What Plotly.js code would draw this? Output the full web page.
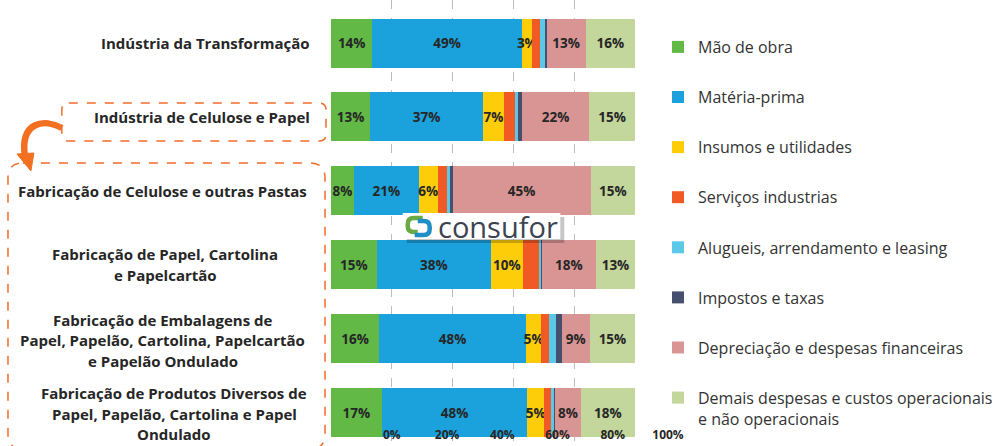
<!DOCTYPE html>
<html>
<head>
<meta charset="utf-8">
<script src="https://cdn.plot.ly/plotly-3.0.1.min.js"></script>
<style>html,body{margin:0;padding:0;background:#fff;}#chart{width:998px;height:446px;}</style>
</head>
<body>
<div id="chart"></div>
<script>
// ---------- DATA ----------
const categories = [
  'Indústria da Transformação',
  'Indústria de Celulose e Papel',
  'Fabricação de Celulose e outras Pastas',
  'Fabricação de Papel, Cartolina<br>e Papelcartão',
  'Fabricação de Embalagens de<br>Papel, Papelão, Cartolina, Papelcartão<br>e Papelão Ondulado',
  'Fabricação de Produtos Diversos de<br>Papel, Papelão, Cartolina e Papel<br>Ondulado'
];
const seriesNames = [
  'Mão de obra',
  'Matéria-prima',
  'Insumos e utilidades',
  'Serviços industrias',
  'Alugueis, arrendamento e leasing',
  'Impostos e taxas',
  'Depreciação e despesas financeiras',
  'Demais despesas e custos operacionais<br>e não operacionais'
];
const maoDeObra    = [13.6, 12.9,  7.6, 15.0, 15.8, 16.7];
const materiaPrima = [49.2, 37.1, 21.2, 37.6, 48.3, 47.9];
const insumos      = [ 3.2,  6.9,  6.4, 10.4,  5.1,  5.4];
const servicos     = [ 2.7,  3.6,  3.0,  5.3,  2.4,  2.3];
const alugueis     = [ 1.7,  1.0,  0.8,  0.7,  2.5,  1.0];
const impostos     = [ 0.5,  1.3,  1.0,  0.3,  1.7,  0.4];
const depreciacao  = [12.8, 22.1, 45.4, 17.8,  9.3,  8.4];
const demais       = [16.3, 15.1, 14.6, 12.9, 14.9, 17.9];
const tickValues = [0, 20, 40, 60, 80, 100];
const tickLabels = ['0%', '20%', '40%', '60%', '80%', '100%'];
const watermark = 'consufor';

// ---------- STYLE ----------
const W = 998, H = 446;
const colors = ['#62b946', '#1ba1db', '#fecd0a', '#f15a24', '#5bc8e8', '#44506e', '#d99594', '#c3d69b'];
const showLabel = [true, true, true, false, false, false, true, true];
const textColor = '#262626';
const labelFont = '"Open Sans", Lato, sans-serif';
const legendFont = '"Open Sans", Lato, sans-serif';
const allSeries = [maoDeObra, materiaPrima, insumos, servicos, alugueis, impostos, depreciacao, demais];

const px = x => x / W;
const py = y => 1 - y / H;

const traces = allSeries.map((vals, i) => ({
  type: 'bar',
  orientation: 'h',
  name: seriesNames[i],
  legendgroup: 'g' + i,
  x: vals,
  y: categories,
  marker: {color: colors[i], line: {width: 0}},
  texttemplate: showLabel[i] ? '%{x:.0f}%' : '',
  textposition: showLabel[i] ? 'inside' : 'none',
  insidetextanchor: 'middle',
  textangle: 0,
  constraintext: 'none',
  textfont: {family: labelFont, size: 13.5, color: textColor, weight: 700},
  hoverinfo: 'name+x'
}));
// invisible carrier so the shifted percentage axis (xaxis2) is drawn
traces.push({
  type: 'scatter', mode: 'markers', x: [tickValues[0], tickValues[tickValues.length - 1]],
  y: [categories[0], categories[0]], xaxis: 'x2', yaxis: 'y',
  marker: {opacity: 0}, showlegend: false, hoverinfo: 'skip'
});

// decorations
function roundRect(x0, y0, x1, y1, r) {
  const p = (x, y) => px(x).toFixed(5) + ',' + py(y).toFixed(5);
  return 'M' + p(x0 + r, y0) + ' L' + p(x1 - r, y0) + ' Q' + p(x1, y0) + ' ' + p(x1, y0 + r) +
    ' L' + p(x1, y1 - r) + ' Q' + p(x1, y1) + ' ' + p(x1 - r, y1) +
    ' L' + p(x0 + r, y1) + ' Q' + p(x0, y1) + ' ' + p(x0, y1 - r) +
    ' L' + p(x0, y0 + r) + ' Q' + p(x0, y0) + ' ' + p(x0 + r, y0) + ' Z';
}
function pathPx(cmds) {
  return cmds.map(c => typeof c === 'string' ? c : (px(c[0]).toFixed(5) + ',' + py(c[1]).toFixed(5))).join(' ');
}
const orange = '#f26b2a';
const arrowColor = '#f37021';
const shapes = [
  {type: 'path', xref: 'paper', yref: 'paper', path: roundRect(62, 103, 327, 141, 7),
   line: {color: orange, width: 1.5, dash: 'dash'}, fillcolor: 'rgba(0,0,0,0)'},
  {type: 'path', xref: 'paper', yref: 'paper', path: roundRect(8, 163, 326, 449, 15),
   line: {color: orange, width: 1.5, dash: 'dash'}, fillcolor: 'rgba(0,0,0,0)'},
  {type: 'path', xref: 'paper', yref: 'paper',
   path: pathPx(['M', [62, 128], 'C', [44, 118], [20, 122], [25, 156]]),
   line: {color: arrowColor, width: 6.5}, fillcolor: 'rgba(0,0,0,0)'},
  {type: 'path', xref: 'paper', yref: 'paper',
   path: pathPx(['M', [17, 154], 'L', [34, 153], 'L', [31, 171], 'Z']),
   line: {color: arrowColor, width: 1}, fillcolor: arrowColor},
  // watermark box
  {type: 'rect', xref: 'paper', yref: 'paper', layer: 'above', x0: px(408), x1: px(566), y0: py(217), y1: py(243),
   fillcolor: 'rgba(0,0,0,0.22)', line: {width: 0}},
  {type: 'rect', xref: 'paper', yref: 'paper', layer: 'above', x0: px(404), x1: px(562), y0: py(213), y1: py(239),
   fillcolor: '#ffffff', line: {width: 0}},
  {type: 'path', xref: 'paper', yref: 'paper', layer: 'above',
   path: pathPx(['M', [424, 218], 'L', [415, 218], 'Q', [409, 218], [409, 224], 'L', [409, 226], 'Q', [409, 232], [415, 232], 'L', [419, 232]]),
   line: {color: '#6aaa45', width: 4.5}, fillcolor: 'rgba(0,0,0,0)'},
  {type: 'path', xref: 'paper', yref: 'paper', layer: 'above',
   path: pathPx(['M', [419, 221], 'L', [425, 221], 'Q', [431, 221], [431, 227], 'L', [431, 229], 'Q', [431, 235], [425, 235], 'L', [416, 235]]),
   line: {color: '#1f8fc6', width: 4.5}, fillcolor: 'rgba(0,0,0,0)'}
];

const labelPos = [
  {x: 313, anchor: 'right', dy: 0},
  {x: 313, anchor: 'right', dy: 0},
  {x: 310, anchor: 'right', dy: 0},
  {x: 165.5, anchor: 'center', dy: 0},
  {x: 163, anchor: 'center', dy: 1.5},
  {x: 175, anchor: 'center', dy: 1}
];
const lineGap = 20.5;
const annotations = [];
categories.forEach((c, i) => {
  const lines = c.split('<br>');
  lines.forEach((ln, k) => {
    annotations.push({
      xref: 'paper', yref: 'y', x: px(labelPos[i].x), y: c,
      xanchor: labelPos[i].anchor, yanchor: 'middle', align: 'center',
      yshift: -((k - (lines.length - 1) / 2) * lineGap + labelPos[i].dy),
      text: ln, showarrow: false,
      font: {family: labelFont, size: 15, color: textColor, weight: 700}
    });
  });
});
annotations.push({
  xref: 'paper', yref: 'paper', x: px(499), y: py(226), xanchor: 'center', yanchor: 'middle',
  text: watermark, showarrow: false,
  font: {family: '"Open Sans", sans-serif', size: 29, color: '#3d4451'}
});

const layout = {
  width: W, height: H, autosize: false,
  margin: {l: 0, r: 0, t: 0, b: 0},
  paper_bgcolor: '#ffffff', plot_bgcolor: 'rgba(0,0,0,0)',
  barmode: 'stack', bargap: 0.337,
  showlegend: true,
  xaxis: {domain: [px(332), px(637)], range: [0, 100], tickvals: tickValues, showticklabels: false,
          showgrid: true, gridcolor: '#bdbdbd', griddash: 'dash', gridwidth: 1, zeroline: false, showline: false,
          fixedrange: true},
  xaxis2: {domain: [px(393), px(670)], anchor: 'free', position: 1 - 426 / H, range: [0, 100],
           tickvals: tickValues, ticktext: tickLabels, showgrid: false, zeroline: false, showline: false, ticks: '',
           tickfont: {family: labelFont, size: 12, color: textColor, weight: 700}, fixedrange: true},
  yaxis: {type: 'category', range: [5.453, -0.582], showticklabels: false, showgrid: false, zeroline: false,
          fixedrange: true},
  legend: {x: px(660), xanchor: 'left', y: py(30), yanchor: 'top', traceorder: 'grouped', tracegroupgap: 26.3,
           valign: 'top', bgcolor: 'rgba(0,0,0,0)',
           font: {family: legendFont, size: 16, color: '#333333'}},
  shapes: shapes,
  annotations: annotations
};

Plotly.newPlot('chart', traces, layout, {displayModeBar: false, staticPlot: true});
</script>
</body>
</html>
